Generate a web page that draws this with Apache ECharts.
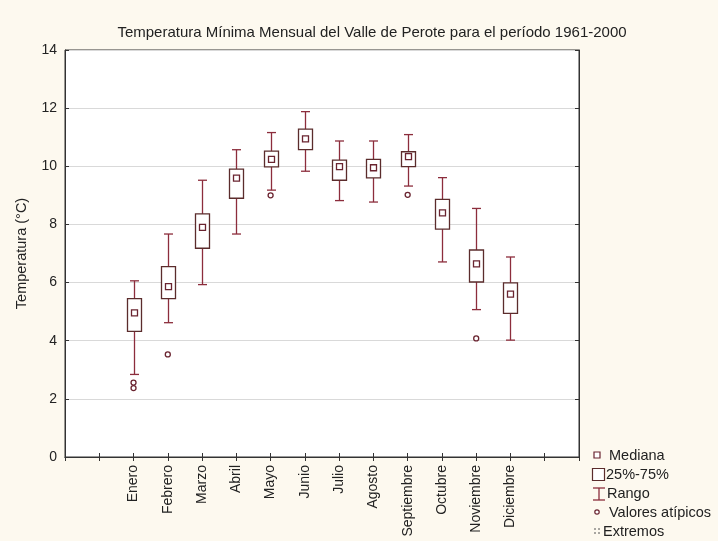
<!DOCTYPE html>
<html>
<head>
<meta charset="utf-8">
<script src="https://cdn.jsdelivr.net/npm/echarts@6/dist/echarts.min.js"></script>
<style>
  html, body { margin: 0; padding: 0; background: #fdf9ef; }
  #chart { width: 718px; height: 541px; }
</style>
</head>
<body>
<div id="chart"></div>
<script>
  // meses
  var months = ["Enero", "Febrero", "Marzo", "Abril", "Mayo", "Junio", "Julio",
    "Agosto", "Septiembre", "Octubre", "Noviembre", "Diciembre"]
  // dos huecos vacios a cada lado, como en la figura original
  var categories = ["", " "].concat(months, ["  ", "   "])

  // valores (°C)
  var whiskerLow = [2.84, 4.62, 5.93, 7.67, 9.18, 9.83, 8.82, 8.77, 9.32, 6.71, 5.07, 4.02]
  var q1 = [4.32, 5.45, 7.18, 8.90, 9.98, 10.57, 9.52, 9.60, 9.99, 7.84, 6.02, 4.94]
  var median = [4.96, 5.86, 7.90, 9.59, 10.24, 10.94, 9.99, 9.95, 10.33, 8.40, 6.64, 5.60]
  var q3 = [5.45, 6.55, 8.36, 9.90, 10.52, 11.28, 10.21, 10.24, 10.50, 8.86, 7.12, 5.99]
  var whiskerHigh = [6.06, 7.67, 9.52, 10.57, 11.16, 11.88, 10.87, 10.87, 11.09, 9.61, 8.55, 6.88]

  // valores atipicos
  var outlierMonth = ["Enero", "Enero", "Febrero", "Mayo", "Septiembre", "Noviembre"]
  var outlierValue = [2.56, 2.37, 3.53, 9.00, 9.02, 4.08]

  var yTicks = [0, 2, 4, 6, 8, 10, 12, 14]

  var boxColor = "#5b2c2c"
  var whiskerColor = "#8c2d3c"
  var medianColor = "#6a2430"

  var boxData = months.map(function (m, i) {
    return [m, whiskerLow[i], q1[i], median[i], q3[i], whiskerHigh[i]]
  })
  var outlierData = outlierMonth.map(function (m, i) {
    return [m, outlierValue[i]]
  })

  function renderBox (params, api) {
    var x = api.value(0)
    var lo = api.coord([x, api.value(1)])
    var b1 = api.coord([x, api.value(2)])
    var md = api.coord([x, api.value(3)])
    var b3 = api.coord([x, api.value(4)])
    var hi = api.coord([x, api.value(5)])
    var cx = Math.round(lo[0]) + 0.5
    var bw = 14, cw = 9, ms = 6
    var ws = { stroke: whiskerColor, lineWidth: 1.3 }
    return {
      type: "group",
      children: [
        { type: "line", shape: { x1: cx, y1: hi[1], x2: cx, y2: b3[1] }, style: ws },
        { type: "line", shape: { x1: cx, y1: b1[1], x2: cx, y2: lo[1] }, style: ws },
        { type: "line", shape: { x1: cx - cw / 2, y1: hi[1], x2: cx + cw / 2, y2: hi[1] }, style: ws },
        { type: "line", shape: { x1: cx - cw / 2, y1: lo[1], x2: cx + cw / 2, y2: lo[1] }, style: ws },
        { type: "rect", shape: { x: cx - bw / 2, y: b3[1], width: bw, height: b1[1] - b3[1] },
          style: { fill: "#fff", stroke: boxColor, lineWidth: 1.3 } },
        { type: "rect", shape: { x: cx - ms / 2, y: md[1] - ms / 2, width: ms, height: ms },
          style: { fill: "#fff", stroke: medianColor, lineWidth: 1.3 } }
      ]
    }
  }

  var chart = echarts.init(document.getElementById("chart"))

  var legendX = 593
  var legendText = { fontSize: 14.5, fill: "#222", fontFamily: "Liberation Sans, Arial, sans-serif" }
  function legendLabel (x, y, text) {
    return { type: "text", x: x, y: y, style: Object.assign({ text: text, textVerticalAlign: "middle" }, legendText) }
  }

  chart.setOption({
    backgroundColor: "#fdf9ef",
    textStyle: { fontFamily: "Liberation Sans, Arial, sans-serif" },
    title: {
      text: "Temperatura Mínima Mensual del Valle de Perote para el período 1961-2000",
      left: 367,
      textAlign: "center",
      top: 20,
      textStyle: { fontSize: 15, fontWeight: "normal", color: "#222" }
    },
    grid: {
      left: 65,
      right: 139,
      top: 50,
      bottom: 84,
      show: true,
      backgroundColor: "#fff",
      borderColor: "#333",
      borderWidth: 1
    },
    xAxis: [
      {
        type: "category",
        data: categories,
        boundaryGap: false,
        axisLine: { lineStyle: { color: "#333" } },
        axisTick: { inside: true, length: 4, interval: 0, lineStyle: { color: "#333" } },
        axisLabel: { rotate: 90, interval: 0, fontSize: 14, color: "#222", margin: 8 },
        splitLine: { show: false }
      },
      {
        type: "category",
        data: categories,
        position: "top",
        boundaryGap: false,
        axisLine: { lineStyle: { color: "#333" } },
        axisTick: { inside: true, length: 4, interval: 0, lineStyle: { color: "#333" } },
        axisLabel: { show: false },
        splitLine: { show: false }
      }
    ],
    yAxis: [
      {
        type: "value",
        min: yTicks[0],
        max: yTicks[yTicks.length - 1],
        interval: 2,
        name: "Temperatura (°C)",
        nameLocation: "middle",
        nameGap: 36,
        nameTextStyle: { fontSize: 14.5, color: "#222" },
        axisLine: { show: true, lineStyle: { color: "#333" } },
        axisTick: { show: true, inside: true, length: 4, lineStyle: { color: "#333" } },
        axisLabel: { fontSize: 14, color: "#222", margin: 8 },
        splitLine: { lineStyle: { color: "#d9d9d9" } }
      },
      {
        type: "value",
        position: "right",
        min: yTicks[0],
        max: yTicks[yTicks.length - 1],
        interval: 2,
        axisLine: { show: true, lineStyle: { color: "#333" } },
        axisTick: { show: true, inside: true, length: 4, lineStyle: { color: "#333" } },
        axisLabel: { show: false },
        splitLine: { show: false }
      }
    ],
    series: [
      {
        name: "25%-75%",
        type: "custom",
        xAxisIndex: 0,
        yAxisIndex: 0,
        renderItem: renderBox,
        encode: { x: 0, y: [1, 2, 3, 4, 5] },
        data: boxData,
        z: 3
      },
      {
        name: "Valores atípicos",
        type: "scatter",
        xAxisIndex: 0,
        yAxisIndex: 0,
        symbol: "circle",
        symbolSize: 5,
        itemStyle: { color: "#fff", borderColor: medianColor, borderWidth: 1.3, opacity: 1 },
        data: outlierData,
        z: 4
      }
    ],
    graphic: [
      // Mediana
      { type: "rect", shape: { x: legendX + 1, y: 452, width: 6, height: 6 },
        style: { fill: "#fff", stroke: medianColor, lineWidth: 1.2 } },
      legendLabel(609, 456, "Mediana"),
      // 25%-75%
      { type: "rect", shape: { x: legendX - 0.5, y: 468.5, width: 12, height: 12 },
        style: { fill: "#fff", stroke: boxColor, lineWidth: 1.2 } },
      legendLabel(606, 475, "25%-75%"),
      // Rango
      { type: "line", shape: { x1: legendX, y1: 488, x2: legendX + 12, y2: 488 },
        style: { stroke: whiskerColor, lineWidth: 1.3 } },
      { type: "line", shape: { x1: legendX + 6, y1: 488, x2: legendX + 6, y2: 500 },
        style: { stroke: whiskerColor, lineWidth: 1.3 } },
      { type: "line", shape: { x1: legendX, y1: 500, x2: legendX + 12, y2: 500 },
        style: { stroke: whiskerColor, lineWidth: 1.3 } },
      legendLabel(607, 494, "Rango"),
      // Valores atipicos
      { type: "circle", shape: { cx: legendX + 4, cy: 512, r: 2.2 },
        style: { fill: "#fff", stroke: medianColor, lineWidth: 1.2 } },
      legendLabel(609, 513, "Valores atípicos"),
      // Extremos
      { type: "line", shape: { x1: legendX + 1, y1: 529, x2: legendX + 3, y2: 529 },
        style: { stroke: "#555", lineWidth: 1 } },
      { type: "line", shape: { x1: legendX + 1, y1: 533, x2: legendX + 3, y2: 533 },
        style: { stroke: "#555", lineWidth: 1 } },
      { type: "line", shape: { x1: legendX + 5, y1: 529, x2: legendX + 7, y2: 529 },
        style: { stroke: "#555", lineWidth: 1 } },
      { type: "line", shape: { x1: legendX + 5, y1: 533, x2: legendX + 7, y2: 533 },
        style: { stroke: "#555", lineWidth: 1 } },
      legendLabel(603, 532, "Extremos")
    ]
  })
</script>
</body>
</html>
